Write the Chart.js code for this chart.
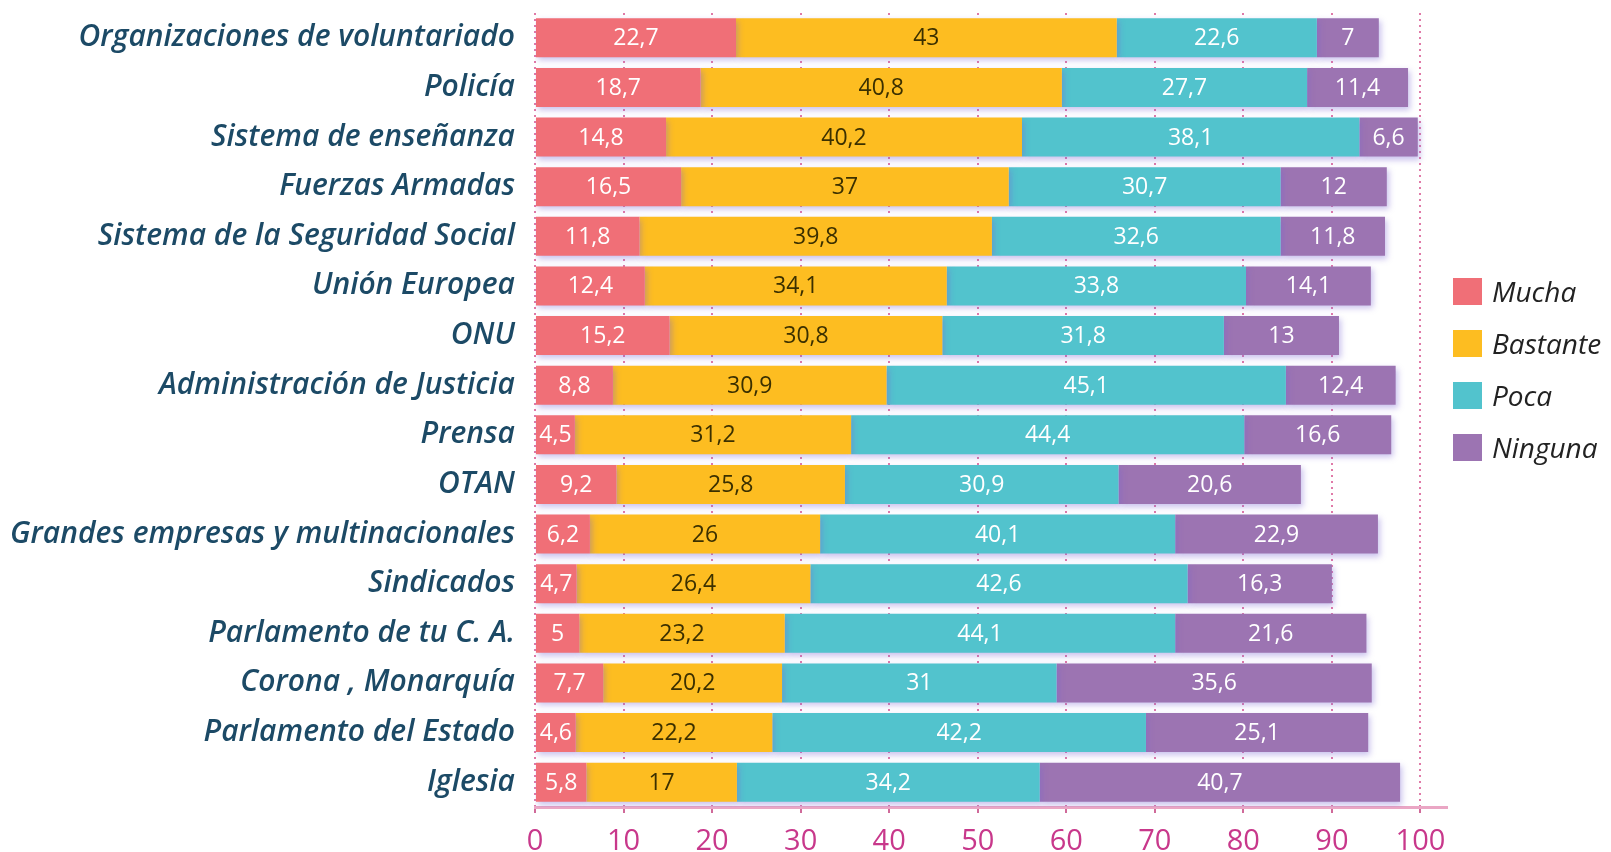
<!DOCTYPE html>
<html>
<head>
<meta charset="utf-8">
<script src="https://cdn.jsdelivr.net/npm/chart.js@4/dist/chart.umd.min.js"></script>
<style>
  body { margin: 0; background: #fff; }
  #wrap { position: relative; width: 1611px; height: 852px; }
  #legend { position: absolute; left: 1453px; top: 278px; margin: 0; padding: 0; list-style: none;
            font-family: "Open Sans", sans-serif; font-style: italic; font-size: 28px; color: #222; }
  #legend li { height: 52px; display: flex; align-items: flex-start; }
  #legend span.box { width: 29px; height: 27px; display: inline-block; margin-right: 10px; }
  #legend span.txt { line-height: 27px; }
</style>
</head>
<body>
<div id="wrap">
  <canvas id="chart"></canvas>
  <ul id="legend"></ul>
</div>
<script>
const categories = [
  "Organizaciones de voluntariado", "Policía", "Sistema de enseñanza", "Fuerzas Armadas",
  "Sistema de la Seguridad Social", "Unión Europea", "ONU", "Administración de Justicia",
  "Prensa", "OTAN", "Grandes empresas y multinacionales", "Sindicados",
  "Parlamento de tu C. A.", "Corona , Monarquía", "Parlamento del Estado", "Iglesia"
];
const seriesNames = ["Mucha", "Bastante", "Poca", "Ninguna"];
const mucha    = [22.7, 18.7, 14.8, 16.5, 11.8, 12.4, 15.2, 8.8, 4.5, 9.2, 6.2, 4.7, 5, 7.7, 4.6, 5.8];
const bastante = [43, 40.8, 40.2, 37, 39.8, 34.1, 30.8, 30.9, 31.2, 25.8, 26, 26.4, 23.2, 20.2, 22.2, 17];
const poca     = [22.6, 27.7, 38.1, 30.7, 32.6, 33.8, 31.8, 45.1, 44.4, 30.9, 40.1, 42.6, 44.1, 31, 42.2, 34.2];
const ninguna  = [7, 11.4, 6.6, 12, 11.8, 14.1, 13, 12.4, 16.6, 20.6, 22.9, 16.3, 21.6, 35.6, 25.1, 40.7];
const colors = ["#f06f77", "#fdbd21", "#52c3cd", "#9c74b2"];
const labelColors = ["#ffffff", "#3b3000", "#ffffff", "#ffffff"];

const values = [mucha, bastante, poca, ninguna];

// legend
const legendEl = document.getElementById("legend");
seriesNames.forEach((name, i) => {
  legendEl.innerHTML += `<li><span class="box" style="background:${colors[i]}"></span><span class="txt">${name}</span></li>`;
});

// bar shadow + value labels
const barExtras = {
  id: "barExtras",
  beforeDatasetsDraw(chart) {
    const ctx = chart.ctx;
    ctx.save();
    ctx.shadowColor = "rgba(120, 100, 210, 0.4)";
    ctx.shadowBlur = 6;
    ctx.shadowOffsetX = 2;
    ctx.shadowOffsetY = 3;
  },
  afterDatasetsDraw(chart) {
    const ctx = chart.ctx;
    ctx.restore();
    ctx.save();
    ctx.font = "23px 'Open Sans', sans-serif";
    ctx.textAlign = "center";
    ctx.textBaseline = "middle";
    chart.data.datasets.forEach((ds, di) => {
      const meta = chart.getDatasetMeta(di);
      ctx.fillStyle = labelColors[di];
      meta.data.forEach((bar, i) => {
        const p = bar.getCenterPoint();
        ctx.fillText(String(ds.data[i]).replace(".", ","), p.x, p.y + 1);
      });
    });
    ctx.restore();
  }
};

new Chart(document.getElementById("chart"), {
  type: "bar",
  data: {
    labels: categories,
    datasets: seriesNames.map((name, i) => ({
      label: name,
      data: values[i],
      backgroundColor: colors[i],
      borderWidth: 0,
      barPercentage: 0.98,
      categoryPercentage: 0.8
    }))
  },
  options: {
    indexAxis: "y",
    responsive: true,
    maintainAspectRatio: false,
    animation: false,
    layout: { padding: { top: 13, right: 164, bottom: 0, left: 0 } },
    scales: {
      x: {
        stacked: true,
        min: 0,
        max: 103,
        afterFit: (scale) => { scale.height = 45; },
        ticks: {
          stepSize: 10,
          includeBounds: false,
          color: "#c8388b",
          padding: 11,
          font: { family: "'Open Sans', sans-serif", size: 29 }
        },
        grid: {
          color: "#e07aa8",
          lineWidth: 2,
          drawTicks: true,
          tickLength: 6,
          tickColor: "#d06a9a"
        },
        border: { display: true, color: "#eaa6c4", width: 3, dash: [2, 4] }
      },
      y: {
        stacked: true,
        afterFit: (scale) => {
          scale.width = 535;
          scale.paddingTop = 0;
          scale.paddingBottom = 0;
        },
        grid: { display: false },
        border: { display: false },
        ticks: {
          color: "#1c4a66",
          padding: 12,
          font: { family: "'Open Sans', sans-serif", size: 30, style: "italic", weight: "600" }
        }
      }
    },
    plugins: {
      legend: { display: false },
      tooltip: { enabled: false }
    }
  },
  plugins: [barExtras]
});
</script>
</body>
</html>
